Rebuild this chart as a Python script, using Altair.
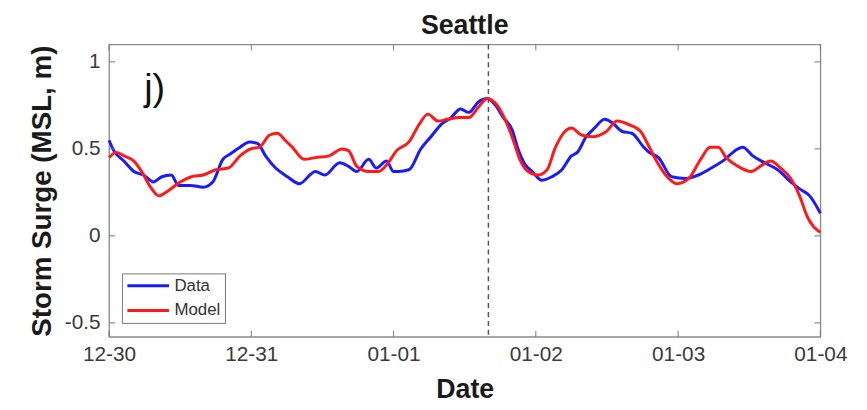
import altair as alt
import pandas as pd

# hours since 12-30 00:00
data_hours = [0, 0.8, 2.5, 4.2, 5.8, 7.5, 8.9, 10.5, 11.7, 13.7, 15.9, 17.5, 19.2, 20.4, 22.1, 23.7,
              25.1, 26.4, 28.1, 30.1, 32.1, 34.8, 36.4, 38.9, 40.4, 41.8, 43.8, 45.1, 46.8, 48.0,
              48.8, 50.6, 52.6, 54.3, 56.0, 57.7, 59.3, 60.7, 62.3, 63.8, 65.2, 66.5, 68.0, 69.0,
              70.2, 71.4, 73.0, 74.7, 76.4, 78.0, 79.0, 80.5, 81.9, 83.6, 84.9, 86.6, 88.2, 90.2,
              91.1, 92.7, 94.9, 97.3, 99.4, 101.6, 103.9, 105.6, 106.9, 108.6, 110.6, 112.8, 115.0,
              116.5, 118.2, 120.0]
data_vals = [0.55, 0.49, 0.43, 0.37, 0.35, 0.31, 0.34, 0.35, 0.29, 0.29, 0.28, 0.31, 0.44, 0.47, 0.51, 0.54,
             0.53, 0.46, 0.39, 0.34, 0.30, 0.37, 0.35, 0.42, 0.40, 0.37, 0.44, 0.39, 0.43, 0.37,
             0.37, 0.38, 0.50, 0.57, 0.64, 0.68, 0.73, 0.71, 0.77, 0.79, 0.75, 0.68, 0.61, 0.50,
             0.41, 0.37, 0.32, 0.34, 0.38, 0.46, 0.48, 0.57, 0.62, 0.67, 0.65, 0.60, 0.59, 0.51,
             0.48, 0.45, 0.34, 0.33, 0.35, 0.39, 0.44, 0.49, 0.51, 0.46, 0.42, 0.38, 0.31,
             0.27, 0.23, 0.13]

model_hours = [0, 1.2, 2.5, 4.2, 5.5, 7.0, 8.4, 10.0, 12.0, 13.9, 15.9, 18.0, 20.1, 22.1, 23.9, 25.4,
               27.1, 28.4, 29.7, 30.9, 32.9, 34.8, 37.1, 39.3, 40.4, 41.8, 43.9, 45.5, 47.1, 48.5,
               50.6, 52.3, 53.8, 55.5, 57.1, 59.0, 60.7, 62.3, 63.8, 65.5, 66.8, 68.2, 69.3, 70.7,
               72.4, 73.9, 75.2, 76.9, 78.0, 79.7, 81.5, 83.9, 85.7, 87.7, 89.7, 90.7, 92.2, 93.9,
               95.8, 97.8, 99.8, 101.4, 102.8, 104.1, 106.1, 108.3, 110.3, 111.6, 113.3, 115.0,
               116.5, 117.8, 120.0]
model_vals = [0.45, 0.48, 0.46, 0.43, 0.37, 0.28, 0.23, 0.26, 0.31, 0.34, 0.35, 0.38, 0.39, 0.46, 0.50, 0.51,
              0.58, 0.59, 0.55, 0.51, 0.44, 0.45, 0.46, 0.50, 0.49, 0.40, 0.37, 0.37, 0.42, 0.49,
              0.54, 0.64, 0.70, 0.66, 0.67, 0.68, 0.68, 0.74, 0.79, 0.75, 0.67, 0.55, 0.44, 0.37,
              0.35, 0.38, 0.50, 0.60, 0.62, 0.58, 0.57, 0.60, 0.66, 0.64, 0.60, 0.54, 0.44, 0.35,
              0.30, 0.33, 0.44, 0.51, 0.51, 0.45, 0.40, 0.37, 0.41, 0.43, 0.39, 0.33,
              0.23, 0.11, 0.02]

x_ticks = [0, 24, 48, 72, 96, 120]
x_labels = ["12-30", "12-31", "01-01", "01-02", "01-03", "01-04"]
y_ticks = [-0.5, 0, 0.5, 1]
event_hour = [64.0]

df = pd.concat([
    pd.DataFrame({"h": data_hours, "v": data_vals, "s": "Data"}),
    pd.DataFrame({"h": model_hours, "v": model_vals, "s": "Model"}),
])

label_expr = "{" + ",".join(f"'{t}':'{l}'" for t, l in zip(x_ticks, x_labels)) + "}[datum.value]"
y_label_expr = "datum.value < 0 ? '-' + format(-datum.value, '~g') : format(datum.value, '~g')"

W, H = 718, 295
FONT = "Liberation Sans"
xs = alt.Scale(domain=[0, 120], nice=False, zero=False)
ys = alt.Scale(domain=[-0.58, 1.1], nice=False, zero=False)

lines = alt.Chart(df).mark_line(strokeWidth=3, interpolate="monotone").encode(
    x=alt.X("h:Q", scale=xs, title="Date",
            axis=alt.Axis(values=x_ticks, labelExpr=label_expr, ticks=False, grid=False,
                          domain=False, labelFontSize=21, labelColor="#3a3a3a",
                          labelPadding=7, labelFlush=False, labelOverlap=False,
                          titleFontSize=27, titleFontWeight="bold",
                          titleColor="#1a1a1a", titlePadding=12, labelFont=FONT,
                          titleFont=FONT)),
    y=alt.Y("v:Q", scale=ys, title="Storm Surge (MSL, m)",
            axis=alt.Axis(values=y_ticks, labelExpr=y_label_expr, ticks=False, grid=False,
                          domain=False, labelFontSize=21, labelColor="#3a3a3a", labelPadding=9,
                          labelFlush=False,
                          titleFontSize=28, titleFontWeight="bold", titleColor="#1a1a1a",
                          titlePadding=8, labelFont=FONT, titleFont=FONT)),
    color=alt.Color("s:N", scale=alt.Scale(domain=["Data", "Model"], range=["#1a1aff", "#ff1a1a"]),
                    legend=alt.Legend(title=None, orient="none", legendX=13, legendY=231,
                                      symbolType="M-1,0L5,0", symbolSize=196, symbolStrokeWidth=3,
                                      labelFontSize=17, labelColor="#333333", labelFont=FONT,
                                      labelOffset=32,
                                      strokeColor="#777777", fillColor="white", padding=4,
                                      rowPadding=7)),
    detail="s:N",
)

vline = alt.Chart(pd.DataFrame({"h": event_hour})).mark_rule(
    color="#555555", strokeDash=[5, 4], strokeWidth=1.5).encode(x=alt.X("h:Q", scale=xs))

xt = pd.DataFrame({"h": x_ticks})
yt = pd.DataFrame({"v": y_ticks})
tick_col = "#777777"
xtick_bot = alt.Chart(xt).mark_rule(color=tick_col).encode(
    x=alt.X("h:Q", scale=xs), y=alt.value(H), y2=alt.value(H - 6))
xtick_top = alt.Chart(xt).mark_rule(color=tick_col).encode(
    x=alt.X("h:Q", scale=xs), y=alt.value(0), y2=alt.value(6))
ytick_l = alt.Chart(yt).mark_rule(color=tick_col).encode(
    y=alt.Y("v:Q", scale=ys), x=alt.value(0), x2=alt.value(6))
ytick_r = alt.Chart(yt).mark_rule(color=tick_col).encode(
    y=alt.Y("v:Q", scale=ys), x=alt.value(W), x2=alt.value(W - 6))

panel_label = alt.Chart(pd.DataFrame({"t": ["j)"]})).mark_text(
    fontSize=38, font=FONT, color="#111111", align="center", baseline="middle"
).encode(text="t:N", x=alt.value(46), y=alt.value(45))

chart = alt.layer(vline, lines, xtick_bot, xtick_top, ytick_l, ytick_r, panel_label).properties(
    width=W, height=H,
    title=alt.Title("Seattle", fontSize=27, fontWeight="bold", font=FONT,
                    color="#1a1a1a", offset=4),
    autosize=alt.AutoSizeParams(type="none"),
    padding={"left": 102, "top": 35, "right": 39, "bottom": 69},
).configure_view(stroke="#8a8a8a", strokeWidth=1.3)

chart.save("out.html", embed_options={"renderer": "svg", "actions": False})
